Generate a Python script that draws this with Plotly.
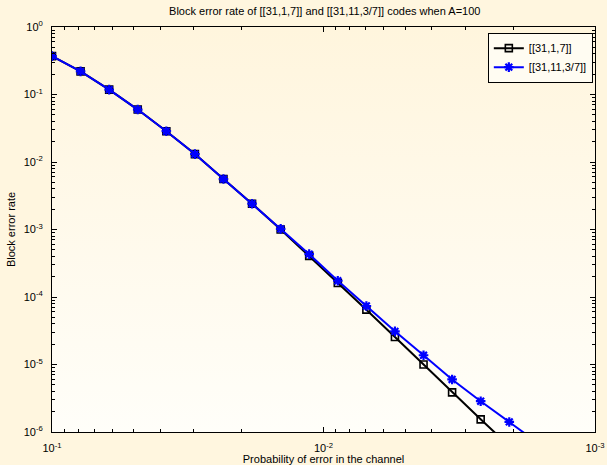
import base64
import plotly.graph_objects as go

# ---------------- data ----------------
x_prob = [0.1, 0.07848, 0.06158, 0.04833, 0.03793, 0.02976, 0.02336, 0.01833,
          0.01438, 0.01129, 0.008859, 0.006952, 0.005456, 0.004281, 0.003360,
          0.002637, 0.002069, 0.001624]
ber_31_1_7 = [0.37, 0.220, 0.118, 0.0598, 0.0286, 0.0131, 0.00559, 0.00241,
              0.00100, 0.000407, 0.000161, 6.49e-5, 2.56e-5, 1.0e-5, 3.86e-6,
              1.54e-6, 6.2e-7]
ber_31_11_3_7 = [0.37, 0.220, 0.118, 0.0598, 0.0286, 0.0131, 0.00559, 0.00241,
                 0.00102, 0.000431, 0.000174, 7.36e-5, 3.10e-5, 1.37e-5, 6.0e-6,
                 2.86e-6, 1.41e-6, 6.9e-7]
series_names = ["[[31,1,7]]", "[[31,11,3/7]]"]
x_tick_vals = [0.1, 0.01, 0.001]
x_tick_text = ["10<sup>-1</sup>", "10<sup>-2</sup>", "10<sup>-3</sup>"]
y_tick_vals = [1, 0.1, 0.01, 0.001, 1e-4, 1e-5, 1e-6]
y_tick_text = ["10<sup>0</sup>", "10<sup>-1</sup>", "10<sup>-2</sup>", "10<sup>-3</sup>",
               "10<sup>-4</sup>", "10<sup>-5</sup>", "10<sup>-6</sup>"]

FONT = "Liberation Sans, Arial, sans-serif"
OUTER_BG = "#FFF6DF"

fig = go.Figure()
fig.add_trace(go.Scatter(
    x=x_prob[:len(ber_31_1_7)], y=ber_31_1_7, name=series_names[0],
    mode="lines+markers",
    line=dict(color="black", width=2),
    marker=dict(symbol="square-open", size=7, color="black", line=dict(width=1.6, color="black")),
))
fig.add_trace(go.Scatter(
    x=x_prob[:len(ber_31_11_3_7)], y=ber_31_11_3_7, name=series_names[1],
    mode="lines+markers",
    line=dict(color="#0000FF", width=2),
    marker=dict(symbol="asterisk-open", size=8, color="#0000FF", line=dict(width=2.2, color="#0000FF")),
))

minor_x = [m * 10 ** e for e in (-3, -2) for m in range(2, 10)]
minor_y = [m * 10 ** e for e in range(-6, 0) for m in range(2, 10)]

axis_common = dict(
    type="log", showgrid=False, zeroline=False, automargin=False,
    showline=True, linecolor="black", linewidth=1, mirror="allticks",
    ticks="inside", ticklen=5, tickwidth=1, tickcolor="black",
    tickfont=dict(family=FONT, size=11, color="black"),
)

fig.update_xaxes(
    **axis_common, range=[-1, -3], tickmode="array",
    tickvals=x_tick_vals, ticktext=x_tick_text, ticklabelstandoff=6,
    minor=dict(tickmode="array", tickvals=minor_x, ticks="inside", ticklen=3,
               tickcolor="black", showgrid=False),
    title=dict(text="Probability of error in the channel",
               font=dict(family=FONT, size=11, color="black"), standoff=2),
)
fig.update_yaxes(
    **axis_common, range=[-6, 0], tickmode="array",
    tickvals=y_tick_vals, ticktext=y_tick_text, ticklabelstandoff=6,
    minor=dict(tickmode="array", tickvals=minor_y, ticks="inside", ticklen=3,
               tickcolor="black", showgrid=False),
    title=dict(text="Block error rate",
               font=dict(family=FONT, size=11, color="black"), standoff=5),
)

svg = ('<svg xmlns="http://www.w3.org/2000/svg" width="10" height="100" preserveAspectRatio="none">'
       '<defs><linearGradient id="g" x1="0" y1="0" x2="0" y2="1">'
       '<stop offset="0" stop-color="#FFF5DD"/><stop offset="1" stop-color="#FFFEF9"/>'
       '</linearGradient></defs><rect width="10" height="100" fill="url(#g)"/></svg>')
src = "data:image/svg+xml;base64," + base64.b64encode(svg.encode()).decode()

fig.update_layout(
    width=607, height=465,
    margin=dict(l=52, r=12, t=27, b=33, autoexpand=False),
    paper_bgcolor=OUTER_BG, plot_bgcolor="#FFFBEE",
    images=[dict(source=src, xref="paper", yref="paper", x=0, y=1, sizex=1, sizey=1,
                 xanchor="left", yanchor="top", sizing="stretch", layer="below")],
    title=dict(text="Block error rate of [[31,1,7]] and [[31,11,3/7]] codes when A=100",
               font=dict(family=FONT, size=11, color="black"),
               x=0.535, xanchor="center", y=0.985, yanchor="top"),
    font=dict(family=FONT, size=11, color="black"),
    legend=dict(x=0.996, xanchor="right", y=0.986, yanchor="top",
                bgcolor="#FFFCF2", bordercolor="black", borderwidth=1,
                font=dict(family=FONT, size=11, color="black"),
                tracegroupgap=0),
    showlegend=True,
    hovermode=False,
)

fig.write_html(
    "out.html",
    config={"displayModeBar": False, "staticPlot": True},
    post_script="document.body.style.margin='0';document.body.style.overflow='hidden';",
)
